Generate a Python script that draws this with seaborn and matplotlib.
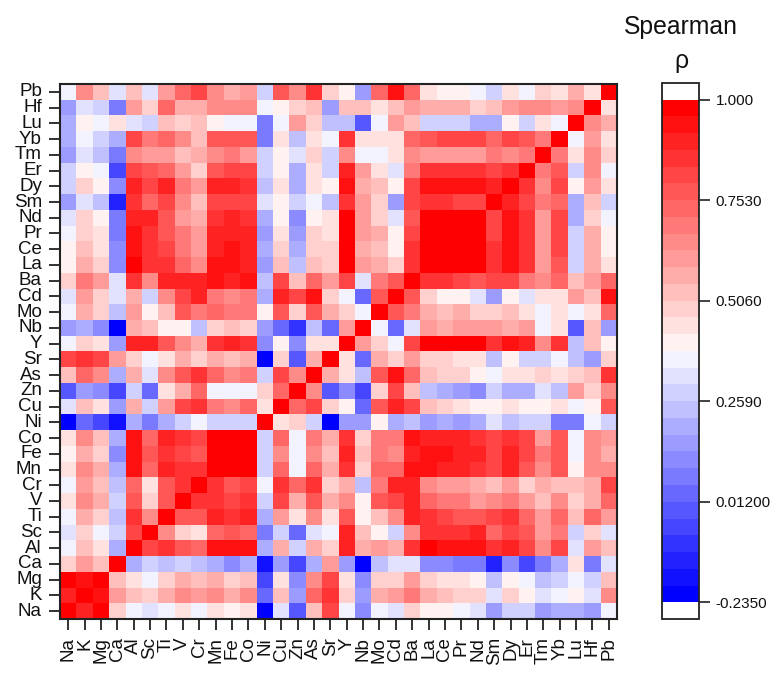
import numpy as np
import pandas as pd
import matplotlib
matplotlib.use('Agg')
import matplotlib.pyplot as plt
from matplotlib.colors import BoundaryNorm, ListedColormap
import seaborn as sns

elements = ['Na', 'K', 'Mg', 'Ca', 'Al', 'Sc', 'Ti', 'V', 'Cr', 'Mn', 'Fe', 'Co', 'Ni', 'Cu', 'Zn', 'As', 'Sr',
            'Y', 'Nb', 'Mo', 'Cd', 'Ba', 'La', 'Ce', 'Pr', 'Nd', 'Sm', 'Dy', 'Er', 'Tm', 'Yb', 'Lu', 'Hf', 'Pb']

rho_Na = [.98, .90, .98, .49, .36, .32, .36, .44, .36, .44, .40, .44, -.21, .32, -.01, .53, .81,
          .36, .12, .36, .32, .49, .40, .40, .36, .32, .16, .28, .28, .16, .20, .20, .16, .36]
rho_K = [.90, .98, .94, .61, .53, .49, .57, .65, .61, .65, .57, .65, .03, .53, .16, .73, .86,
         .49, .16, .57, .61, .69, .57, .53, .49, .49, .32, .49, .40, .32, .36, .40, .32, .65]
rho_Mg = [.98, .94, .98, .53, .44, .36, .49, .57, .53, .57, .49, .53, -.05, .44, .12, .65, .81,
          .44, .12, .49, .49, .61, .49, .44, .44, .40, .24, .40, .36, .24, .28, .36, .28, .53]
rho_Ca = [.49, .61, .53, .98, .20, .28, .24, .28, .24, .20, .12, .20, -.17, .16, -.05, .20, .61,
          .16, -.21, .24, .32, .32, .12, .12, .07, .07, -.13, .12, -.05, .07, .20, .44, .07, .32]
rho_Al = [.36, .53, .44, .20, .98, .81, .86, .77, .73, .94, .94, .94, .20, .57, .28, .57, .49,
          .90, .57, .61, .57, .86, .98, .94, .94, .94, .86, .90, .81, .65, .81, .32, .61, .53]
rho_Sc = [.32, .49, .36, .28, .81, .98, .65, .49, .44, .73, .77, .73, .07, .28, .03, .32, .36,
          .90, .53, .40, .28, .65, .86, .86, .86, .90, .73, .81, .77, .61, .69, .28, .49, .32]
rho_Ti = [.36, .57, .49, .24, .86, .65, .98, .77, .77, .90, .86, .90, .20, .61, .44, .65, .44,
          .77, .40, .53, .65, .90, .86, .81, .77, .77, .81, .86, .73, .61, .73, .53, .73, .61]
rho_V = [.44, .65, .57, .28, .77, .49, .77, .98, .86, .86, .81, .86, .28, .81, .57, .77, .57,
         .65, .40, .77, .81, .90, .73, .69, .69, .61, .65, .69, .61, .53, .65, .49, .57, .73]
rho_Cr = [.36, .61, .53, .24, .73, .44, .77, .86, .98, .86, .77, .81, .36, .86, .73, .86, .49,
          .57, .24, .69, .90, .90, .65, .61, .61, .57, .53, .61, .49, .57, .53, .53, .57, .81]
rho_Mn = [.44, .65, .57, .20, .94, .73, .90, .86, .86, .98, .98, .98, .28, .73, .36, .73, .57,
          .86, .49, .73, .73, .94, .94, .90, .90, .86, .81, .90, .77, .65, .77, .40, .65, .65]
rho_Fe = [.40, .57, .49, .12, .94, .77, .86, .81, .77, .98, .98, .98, .28, .65, .36, .65, .53,
          .90, .53, .69, .65, .90, .94, .94, .90, .90, .81, .90, .81, .69, .77, .36, .65, .57]
rho_Co = [.44, .65, .53, .20, .94, .73, .90, .86, .81, .98, .98, .98, .28, .73, .36, .69, .57,
          .86, .49, .69, .69, .94, .90, .90, .90, .86, .81, .86, .81, .61, .77, .36, .65, .61]
rho_Ni = [-.21, .03, -.05, -.17, .20, .07, .20, .28, .36, .28, .28, .28, .98, .44, .49, .28, -.21,
          .16, .16, .40, .20, .24, .16, .20, .16, .20, .32, .24, .28, .28, .07, .07, .36, .28]
rho_Cu = [.32, .53, .44, .16, .57, .28, .61, .81, .86, .69, .65, .73, .44, .98, .73, .81, .49,
          .40, .03, .77, .90, .81, .53, .49, .44, .40, .40, .44, .40, .40, .44, .36, .40, .77]
rho_Zn = [-.01, .16, .12, -.05, .28, .03, .44, .57, .73, .36, .36, .36, .49, .73, .98, .65, -.01,
          .12, -.05, .49, .81, .53, .24, .20, .16, .12, .28, .20, .20, .32, .24, .61, .49, .65]
rho_As = [.53, .73, .65, .20, .57, .32, .65, .77, .86, .73, .65, .69, .28, .81, .65, .98, .57,
          .44, .24, .77, .94, .73, .53, .49, .49, .40, .36, .44, .44, .49, .44, .49, .53, .86]
rho_Sr = [.81, .86, .81, .61, .49, .36, .44, .57, .49, .57, .53, .57, -.21, .49, -.01, .57, .98,
          .44, .03, .57, .49, .61, .49, .49, .44, .44, .24, .40, .28, .28, .36, .24, .16, .49]
rho_Y = [.36, .49, .44, .16, .90, .90, .77, .65, .57, .86, .90, .86, .12, .40, .12, .44, .44,
         .98, .61, .49, .36, .81, .98, .98, .98, .98, .86, .94, .90, .65, .86, .24, .53, .40]
rho_Nb = [.16, .20, .12, -.21, .57, .53, .40, .40, .24, .49, .53, .49, .16, .03, -.09, .24, .03,
          .61, .98, .36, .03, .32, .61, .57, .61, .61, .61, .57, .61, .36, .44, -.01, .53, .16]
rho_Mo = [.36, .57, .49, .24, .61, .40, .53, .77, .69, .73, .69, .69, .40, .77, .49, .77, .57,
          .49, .36, .98, .77, .69, .57, .53, .57, .49, .49, .53, .44, .36, .44, .36, .44, .73]
rho_Cd = [.32, .61, .49, .32, .57, .28, .65, .81, .90, .69, .65, .69, .20, .90, .81, .94, .49,
          .36, .03, .77, .98, .77, .49, .40, .40, .32, .16, .40, .32, .44, .44, .61, .53, .94]
rho_Ba = [.49, .71, .61, .32, .86, .65, .90, .90, .90, .94, .90, .94, .24, .81, .53, .73, .61,
          .81, .32, .69, .77, .98, .86, .86, .81, .77, .81, .81, .69, .65, .73, .53, .61, .73]
rho_La = [.40, .57, .49, .12, .98, .86, .86, .73, .65, .94, .94, .90, .16, .53, .24, .53, .49,
          .98, .61, .57, .49, .86, .98, .98, .98, .98, .86, .94, .86, .61, .77, .28, .57, .44]
rho_Ce = [.40, .53, .44, .12, .94, .86, .81, .69, .61, .90, .94, .90, .20, .49, .20, .49, .49,
          .98, .57, .53, .40, .86, .98, .98, .98, .98, .86, .94, .86, .61, .81, .28, .57, .40]
rho_Pr = [.36, .49, .44, .07, .94, .86, .77, .69, .61, .90, .90, .90, .16, .44, .16, .49, .44,
          .98, .61, .57, .40, .81, .98, .98, .98, .98, .81, .94, .86, .61, .81, .28, .57, .40]
rho_Nd = [.32, .49, .40, .07, .90, .90, .77, .61, .57, .86, .90, .86, .20, .40, .12, .40, .44,
          .98, .61, .49, .32, .77, .98, .98, .98, .98, .81, .94, .86, .61, .81, .20, .49, .36]
rho_Sm = [.16, .32, .24, -.13, .86, .73, .81, .65, .53, .81, .81, .81, .32, .40, .28, .36, .24,
          .86, .61, .49, .16, .81, .86, .86, .81, .81, .98, .90, .81, .69, .73, .20, .53, .28]
rho_Dy = [.28, .49, .40, .12, .90, .81, .88, .69, .61, .90, .90, .86, .24, .44, .20, .44, .40,
          .94, .57, .53, .40, .81, .94, .94, .94, .94, .90, .98, .86, .65, .81, .40, .61, .44]
rho_Er = [.28, .40, .36, -.05, .81, .77, .73, .61, .49, .77, .81, .81, .28, .40, .20, .44, .28,
          .90, .61, .44, .32, .69, .86, .86, .86, .86, .81, .86, .98, .69, .77, .28, .65, .36]
rho_Tm = [.16, .32, .24, .07, .65, .61, .61, .53, .57, .65, .69, .61, .28, .40, .32, .49, .28,
          .65, .36, .36, .44, .65, .61, .61, .61, .61, .69, .65, .69, .98, .69, .44, .65, .49]
rho_Yb = [.20, .36, .28, .20, .81, .69, .73, .65, .53, .77, .77, .77, .07, .44, .24, .44, .36,
          .86, .44, .44, .44, .73, .77, .81, .81, .81, .73, .81, .77, .69, .98, .36, .61, .44]
rho_Lu = [.20, .40, .36, .44, .32, .28, .53, .49, .53, .40, .36, .36, .07, .36, .61, .49, .24,
          .24, -.01, .36, .61, .53, .28, .28, .28, .20, .20, .40, .28, .44, .36, .98, .65, .57]
rho_Hf = [.16, .32, .28, .07, .61, .49, .73, .57, .57, .65, .65, .65, .36, .40, .49, .53, .16,
          .53, .53, .44, .53, .61, .57, .57, .57, .49, .53, .61, .65, .65, .61, .65, .98, .44]
rho_Pb = [.36, .65, .53, .32, .53, .32, .61, .73, .81, .65, .57, .61, .28, .77, .65, .86, .49,
          .40, .16, .73, .94, .73, .44, .40, .40, .36, .28, .44, .36, .49, .44, .57, .44, .98]

rows = [rho_Pb, rho_Hf, rho_Lu, rho_Yb, rho_Tm, rho_Er, rho_Dy, rho_Sm, rho_Nd, rho_Pr, rho_Ce, rho_La,
        rho_Ba, rho_Cd, rho_Mo, rho_Nb, rho_Y, rho_Sr, rho_As, rho_Zn, rho_Cu, rho_Ni, rho_Co, rho_Fe,
        rho_Mn, rho_Cr, rho_V, rho_Ti, rho_Sc, rho_Al, rho_Ca, rho_Mg, rho_K, rho_Na]

cbar_ticks = [-0.2350, 0.01200, 0.2590, 0.5060, 0.7530, 1.000]
cbar_labels = ['-0.2350', '0.01200', '0.2590', '0.5060', '0.7530', '1.000']

df = pd.DataFrame(rows, index=elements[::-1], columns=elements)

sns.set_theme(style='white')
plt.rcParams['font.family'] = ['Liberation Sans', 'DejaVu Sans']

W, H = 781, 675
fig = plt.figure(figsize=(W / 100, H / 100), dpi=100)
ax = fig.add_axes([60 / W, 1 - 619 / H, 557 / W, 535 / H])
cax = fig.add_axes([662 / W, 1 - 619 / H, 37 / W, 536 / H])

colors = sns.blend_palette(['#0000ff', '#f3f3ff'], 15) + sns.blend_palette(['#fff2f0', '#ff0000'], 15)
cmap = ListedColormap(colors)
cmap.set_over('white')
cmap.set_under('white')
norm = BoundaryNorm(np.linspace(-0.235, 1.0, 31), cmap.N)

sns.heatmap(df, ax=ax, cmap=cmap, norm=norm, cbar_ax=cax,
            xticklabels=True, yticklabels=True,
            cbar_kws={'extend': 'both', 'extendrect': True, 'extendfrac': 1 / 30,
                      'ticks': cbar_ticks, 'spacing': 'proportional', 'drawedges': False})

ax.tick_params(axis='both', length=8, width=1.3, color='#222222', labelsize=13.5, pad=5,
               bottom=True, left=True, labelcolor='#111111')
plt.setp(ax.get_xticklabels(), rotation=90, va='top', ha='center')
plt.setp(ax.get_yticklabels(), rotation=0, va='center')
for s in ax.spines.values():
    s.set_visible(True)
    s.set_linewidth(1.5)
    s.set_color('#222222')

cb = ax.collections[0].colorbar
cb.set_ticks(cbar_ticks)
cb.set_ticklabels(cbar_labels)
cb.minorticks_off()
cax.tick_params(axis='y', length=8, width=1.2, color='#222222', labelsize=11, pad=4, right=True,
                labelcolor='#111111')
cb.outline.set_linewidth(1.3)
cb.outline.set_edgecolor('#222222')

fig.text(681 / W, 1 - 27 / H, 'Spearman', fontsize=17.8, ha='center', va='center', color='#111111')
fig.text(681 / W, 1 - 61 / H, 'ρ', fontsize=17.8, ha='center', va='center', color='#111111')

fig.savefig('out.png', dpi=100, facecolor='white')
